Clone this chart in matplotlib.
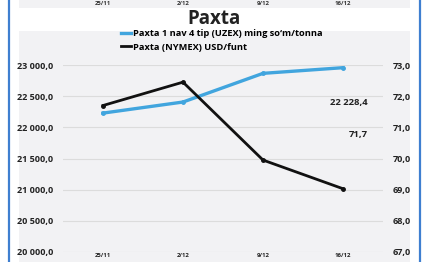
import matplotlib
matplotlib.use("Agg")
import matplotlib.pyplot as plt
from matplotlib.patches import Rectangle
from matplotlib.lines import Line2D

plt.rcParams['font.family'] = ['Open Sans', 'DejaVu Sans']
plt.rcParams['font.weight'] = 'bold'

dates = ['25/11', '2/12', '9/12', '16/12']
uzex = [22228.4, 22406.0, 22866.0, 22957.0]   # ming so'm/tonna
nymex = [71.7, 72.45, 69.95, 69.03]            # USD/funt
left_ticks = [20000, 20500, 21000, 21500, 22000, 22500, 23000]
right_ticks = [67, 68, 69, 70, 71, 72, 73]
label_uzex = "Paxta 1 nav 4 tip (UZEX) ming so\u2018m/tonna"
label_nymex = "Paxta (NYMEX) USD/funt"

W, H = 422, 262
fig = plt.figure(figsize=(W / 100, H / 100), dpi=100)
fig.patch.set_facecolor('white')


def px(x0, y0, w, h):
    return (x0 / W, 1 - (y0 + h) / H, w / W, h / H)


# page background pieces
bg = '#F2F2F4'
for x0, y0, w, h in [(19, 0, 391, 8), (19, 31, 391, 231)]:
    l, b, ww, hh = px(x0, y0, w, h)
    fig.add_artist(Rectangle((l, b), ww, hh, transform=fig.transFigure,
                             facecolor=bg, edgecolor='none', zorder=0))
for xb in (8.5, 419.5):
    fig.add_artist(Line2D([xb / W, xb / W], [0, 1], transform=fig.transFigure,
                          color='#3F7FD0', lw=1.6, zorder=1))

# tick labels of the chart above, cut by the crop
for i, d in enumerate(dates):
    fig.text((103 + 80 * i) / W, 1 - 3.5 / H, d, ha='center', va='center',
             fontsize=4.3, color='#333333')

fig.text(214 / W, 1 - 19 / H, 'Paxta', ha='center', va='center',
         fontsize=13.5, fontweight='bold', color='#222222')

ax = fig.add_axes([63 / W, 1 - 252 / H, 320 / W, 187 / H])
ax.set_facecolor('none')
x = range(len(dates))
ax.plot(x, uzex, color='#41A5DE', lw=2.4, marker='o', ms=2.5, zorder=3)
ax.set_ylim(20000, 23000)
ax.set_xlim(-0.5, 3.5)
ax.set_yticks(left_ticks)
ax.set_yticklabels([f"{v:,.1f}".replace(',', ' ').replace('.', ',') for v in left_ticks])
ax.set_xticks(list(x))
ax.set_xticklabels(dates)
ax.grid(axis='y', color='#DCDCDC', lw=0.8)
ax.set_axisbelow(True)
for s in ax.spines.values():
    s.set_visible(False)
ax.tick_params(length=0, colors='#222222')
ax.tick_params(axis='y', labelsize=6.5, pad=7)
ax.tick_params(axis='x', labelsize=4.3, pad=1)

ax2 = ax.twinx()
ax2.plot(x, nymex, color='#111111', lw=2.0, marker='o', ms=2.5, zorder=3)
ax2.set_ylim(67, 73)
ax2.set_yticks(right_ticks)
ax2.set_yticklabels([f"{v:.1f}".replace('.', ',') for v in right_ticks])
for s in ax2.spines.values():
    s.set_visible(False)
ax2.tick_params(length=0, labelsize=6.5, colors='#222222', pad=7)

fig.text(368 / W, 1 - 103 / H, '22 228,4', ha='right', va='center',
         fontsize=6.8, fontweight='bold', color='#222222')
fig.text(368 / W, 1 - 135 / H, '71,7', ha='right', va='center',
         fontsize=6.8, fontweight='bold', color='#222222')

handles = [Line2D([], [], color='#41A5DE', lw=2.4),
           Line2D([], [], color='#111111', lw=2.0)]
fig.legend(handles, [label_uzex, label_nymex], loc='upper left',
           bbox_to_anchor=(121 / W, 1 - 29 / H), frameon=False,
           prop={'size': 6.7, 'weight': 'bold'}, handlelength=1.1,
           handletextpad=0.15, labelspacing=0.5, borderpad=0, borderaxespad=0)

fig.savefig('out.png', dpi=100)
